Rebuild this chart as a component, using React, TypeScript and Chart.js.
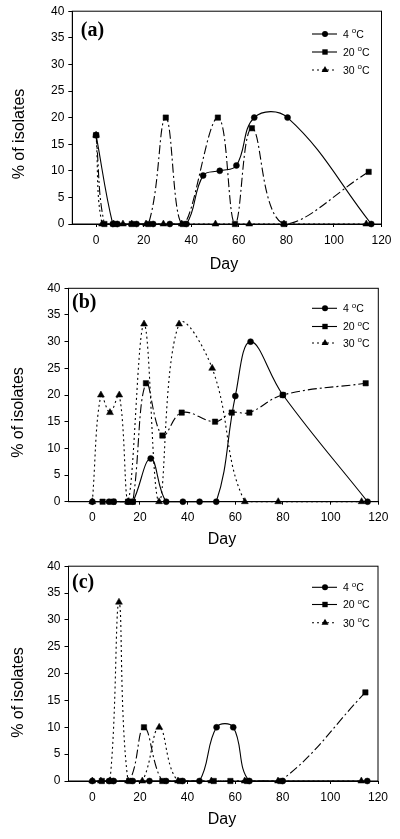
import React, { useEffect, useRef } from "react";
import { Chart, registerables } from "chart.js";

Chart.register(...registerables);

// ---------- data ----------
const SERIES_NAMES = ["4", "20", "30"];
const X_TICKS = [0, 20, 40, 60, 80, 100, 120];
const Y_TICKS = [0, 5, 10, 15, 20, 25, 30, 35, 40];
const PANEL_LABELS = ["(a)", "(b)", "(c)"];
const X_TITLE = "Day";
const Y_TITLE = "% of isolates";

// Panel (a)
const A_DAYS_4 = [0, 7, 9, 17, 24, 31, 38, 45, 52, 59, 66.5, 80.5, 115.7];
const A_VALS_4 = [16.7, 0, 0, 0, 0, 0, 0, 9.1, 10, 11, 20, 20, 0];
const A_DAYS_20 = [0, 3.5, 8, 15, 22, 29.3, 36.5, 51.2, 58.4, 65.5, 79, 114.6];
const A_VALS_20 = [16.7, 0, 0, 0, 0, 20, 0, 20, 0, 18, 0, 9.8];
const A_DAYS_30 = [0, 2.5, 7.4, 11.3, 15, 21, 28.3, 36, 50.2, 64.4, 79, 113.6];
const A_VALS_30 = [16.7, 0, 0, 0, 0, 0, 0, 0, 0, 0, 0, 0];

// Panel (b)
const B_DAYS_4 = [0, 7, 9, 15, 17, 24.5, 31, 38, 45, 52, 60, 66.4, 80, 115.5];
const B_VALS_4 = [0, 0, 0, 0, 0, 8.1, 0, 0, 0, 0, 19.8, 30, 20, 0];
const B_DAYS_20 = [4.3, 8.8, 15, 17, 22.5, 29.4, 37.5, 51.5, 58.5, 65.9, 79.9, 114.7];
const B_VALS_20 = [0, 0, 0, 0, 22.2, 12.4, 16.7, 15, 16.7, 16.7, 20, 22.2];
const B_DAYS_30 = [0, 3.6, 7.4, 11.3, 15, 21.7, 28, 36.4, 50.3, 64, 78, 113];
const B_VALS_30 = [0, 20, 16.7, 20, 0, 33.3, 0, 33.3, 25, 0, 0, 0];

// Panel (c)
const C_DAYS_4 = [0, 7, 9, 17, 24, 31, 38, 45, 52.2, 59.2, 66, 80, 115.5];
const C_VALS_4 = [0, 0, 0, 0, 0, 0, 0, 0, 10, 10, 0, 0, 0];
const C_DAYS_20 = [4, 8, 15.5, 21.7, 29.4, 36.8, 51, 58, 65, 79, 114.7];
const C_VALS_20 = [0, 0, 0, 10, 0, 0, 0, 0, 0, 0, 16.5];
const C_DAYS_30 = [0, 3.6, 7.4, 11.2, 15, 21, 28.1, 36, 50, 64, 78, 113];
const C_VALS_30 = [0, 0, 0, 33.3, 0, 0, 10, 0, 0, 0, 0, 0];

// ---------- layout / styles ----------
type Panel = {
  label: string;
  top: number;
  height: number;
  padTop: number;
  padRight: number;
  yAxisW: number;
  xAxisH: number;
  labelDx: number;
  labelDy: number;
  yTitleX: number;
  yTitleY: number;
  xTitleX: number;
  xTitleY: number;
  legendRows: number[];
  series: { days: number[]; vals: number[] }[];
};

const PANELS: Panel[] = [
  {
    label: PANEL_LABELS[0], top: 0, height: 275, padTop: 11, padRight: 18.5, yAxisW: 72.3, xAxisH: 51,
    labelDx: 8.5, labelDy: 20, yTitleX: 20, yTitleY: 134, xTitleX: 224, xTitleY: 265,
    legendRows: [34, 52, 70],
    series: [
      { days: A_DAYS_4, vals: A_VALS_4 },
      { days: A_DAYS_20, vals: A_VALS_20 },
      { days: A_DAYS_30, vals: A_VALS_30 },
    ],
  },
  {
    label: PANEL_LABELS[1], top: 275, height: 280, padTop: 13.3, padRight: 21.7, yAxisW: 68.5, xAxisH: 53.3,
    labelDx: 3.5, labelDy: 15, yTitleX: 18.3, yTitleY: 137.5, xTitleX: 222, xTitleY: 265,
    legendRows: [33.3, 51.5, 68],
    series: [
      { days: B_DAYS_4, vals: B_VALS_4 },
      { days: B_DAYS_20, vals: B_VALS_20 },
      { days: B_DAYS_30, vals: B_VALS_30 },
    ],
  },
  {
    label: PANEL_LABELS[2], top: 555, height: 284, padTop: 10, padRight: 22, yAxisW: 68.5, xAxisH: 58,
    labelDx: 3.5, labelDy: 16.7, yTitleX: 18.3, yTitleY: 137.5, xTitleX: 222, xTitleY: 265,
    legendRows: [32.3, 49.5, 67.7],
    series: [
      { days: C_DAYS_4, vals: C_VALS_4 },
      { days: C_DAYS_20, vals: C_VALS_20 },
      { days: C_DAYS_30, vals: C_VALS_30 },
    ],
  },
];

const POINT_STYLES = ["circle", "rect", "triangle"];
const POINT_RADII = [3, 3.8, 4];
const LINE_DASHES: number[][] = [[], [9, 3, 2, 3], [2, 3]];
const LEGEND_DASHES: number[][] = [[], [], [2, 3]];
const SANS = '"Liberation Sans", Arial, sans-serif';
const SERIF = '"Liberation Serif", "Times New Roman", serif';

function drawMarker(ctx: CanvasRenderingContext2D, style: string, x: number, y: number, r: number) {
  ctx.beginPath();
  if (style === "circle") {
    ctx.arc(x, y, r, 0, Math.PI * 2);
  } else if (style === "rect") {
    const s = r * Math.SQRT1_2;
    ctx.rect(x - s, y - s, 2 * s, 2 * s);
  } else {
    const h = r;
    ctx.moveTo(x, y - h);
    ctx.lineTo(x + h * 0.866, y + h * 0.5);
    ctx.lineTo(x - h * 0.866, y + h * 0.5);
    ctx.closePath();
  }
  ctx.fill();
}

function makeDecorPlugin(p: Panel) {
  return {
    id: "decor",
    afterDraw(chart: any) {
      const ctx: CanvasRenderingContext2D = chart.ctx;
      const a = chart.chartArea;
      ctx.save();
      // frame
      ctx.strokeStyle = "#000";
      ctx.lineWidth = 1;
      ctx.setLineDash([]);
      ctx.strokeRect(a.left, a.top, a.right - a.left, a.bottom - a.top);

      ctx.fillStyle = "#000";
      // panel label
      ctx.font = `bold 20px ${SERIF}`;
      ctx.textAlign = "left";
      ctx.textBaseline = "middle";
      ctx.fillText(p.label, a.left + p.labelDx, a.top + p.labelDy);

      // x title
      ctx.font = `16px ${SANS}`;
      ctx.textAlign = "center";
      ctx.fillText(X_TITLE, p.xTitleX, p.xTitleY);

      // y title
      ctx.save();
      ctx.translate(p.yTitleX, p.yTitleY);
      ctx.rotate(-Math.PI / 2);
      ctx.fillText(Y_TITLE, 0, 0);
      ctx.restore();

      // legend
      const x1 = 312, x2 = 337, xm = 325, xt = 343;
      SERIES_NAMES.forEach((name, i) => {
        const y = p.legendRows[i];
        ctx.strokeStyle = "#000";
        ctx.lineWidth = 1.1;
        ctx.setLineDash(LEGEND_DASHES[i]);
        ctx.beginPath();
        ctx.moveTo(x1, y);
        ctx.lineTo(x2, y);
        ctx.stroke();
        ctx.setLineDash([]);
        drawMarker(ctx, POINT_STYLES[i], xm, y, POINT_RADII[i]);
        ctx.textAlign = "left";
        ctx.textBaseline = "middle";
        ctx.font = `10.5px ${SANS}`;
        const base = name + " ";
        ctx.fillText(base, xt, y + 1);
        let w = ctx.measureText(base).width;
        ctx.font = `8px ${SANS}`;
        ctx.fillText("o", xt + w, y - 3);
        w += ctx.measureText("o").width;
        ctx.font = `10.5px ${SANS}`;
        ctx.fillText("C", xt + w, y + 1);
      });
      ctx.restore();
    },
  };
}

function PanelChart({ p }: { p: Panel }) {
  const ref = useRef<HTMLCanvasElement | null>(null);
  useEffect(() => {
    if (!ref.current) return;
    const datasets = p.series.map((s, i) => ({
      label: SERIES_NAMES[i],
      data: s.days.map((d, k) => ({ x: d, y: s.vals[k] })),
      borderColor: "#000",
      backgroundColor: "#000",
      pointBackgroundColor: "#000",
      pointBorderColor: "#000",
      borderWidth: 1.1,
      borderDash: LINE_DASHES[i],
      pointStyle: POINT_STYLES[i],
      pointRadius: POINT_RADII[i],
      pointBorderWidth: 0.5,
      tension: 0.4,
      fill: false,
      clip: false,
    }));
    const tickFont = { family: SANS, size: 12 };
    const chart = new Chart(ref.current, {
      type: "line",
      data: { datasets } as any,
      options: {
        animation: false,
        responsive: false,
        devicePixelRatio: 1,
        layout: { padding: { left: 0, top: p.padTop, right: p.padRight, bottom: 0 } },
        plugins: { legend: { display: false }, tooltip: { enabled: false } },
        scales: {
          x: {
            type: "linear",
            min: -10,
            max: 120,
            afterBuildTicks: (s: any) => {
              s.ticks = X_TICKS.map((v) => ({ value: v }));
            },
            afterFit: (s: any) => {
              s.height = p.xAxisH;
            },
            grid: { drawOnChartArea: false, drawTicks: true, tickLength: 3, color: "#000" },
            border: { display: true, color: "#000", width: 1 },
            ticks: { color: "#000", font: tickFont, padding: 6, maxRotation: 0, autoSkip: false },
          },
          y: {
            type: "linear",
            min: 0,
            max: 40,
            afterBuildTicks: (s: any) => {
              s.ticks = Y_TICKS.map((v) => ({ value: v }));
            },
            afterFit: (s: any) => {
              s.width = p.yAxisW;
            },
            grid: { drawOnChartArea: false, drawTicks: true, tickLength: 4, color: "#000" },
            border: { display: true, color: "#000", width: 1 },
            ticks: { color: "#000", font: tickFont, padding: 4, autoSkip: false },
          },
        },
      } as any,
      plugins: [makeDecorPlugin(p)],
    });
    return () => chart.destroy();
  }, [p]);
  return (
    <div style={{ position: "absolute", left: 0, top: p.top, width: 400, height: p.height }}>
      <canvas ref={ref} width={400} height={p.height} style={{ display: "block" }} />
    </div>
  );
}

export default function App() {
  return (
    <div style={{ position: "absolute", left: 0, top: 0, width: 400, height: 839, background: "#fff" }}>
      {PANELS.map((p, i) => (
        <PanelChart key={i} p={p} />
      ))}
    </div>
  );
}
